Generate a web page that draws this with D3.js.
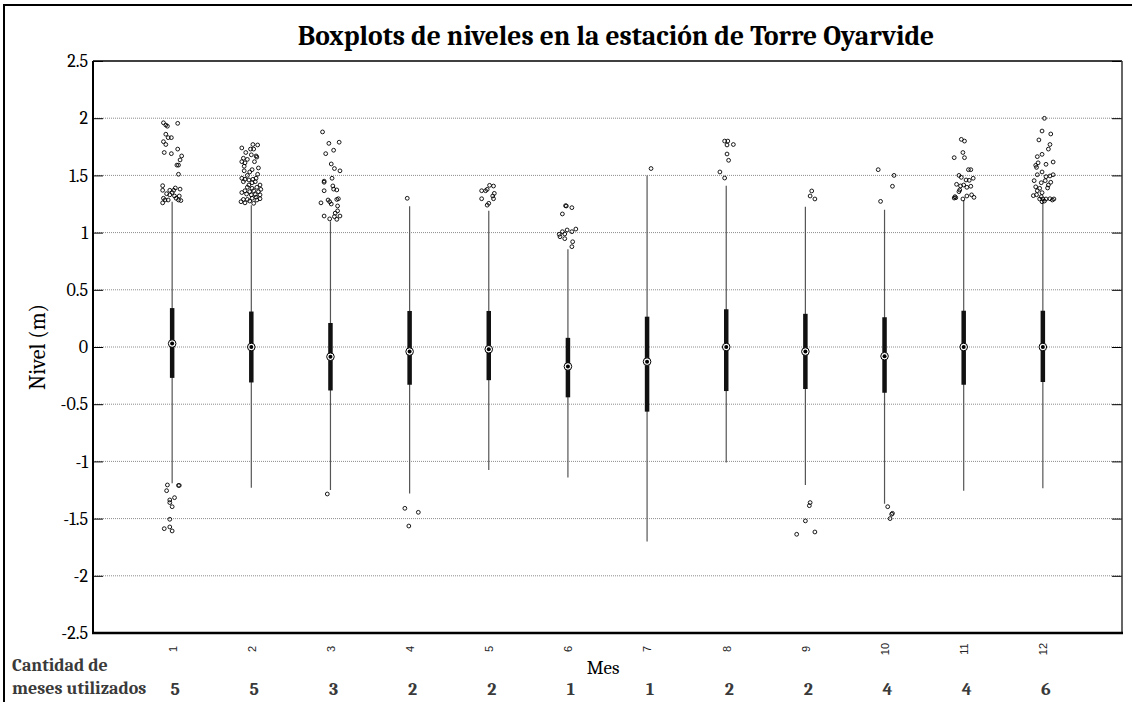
<!DOCTYPE html>
<html>
<head>
<meta charset="utf-8">
<script src="https://cdn.jsdelivr.net/npm/d3@7"></script>
<style>
  body { margin: 0; background: #fff; }
  text { font-family: Cambria, "Liberation Serif", serif; }
  .xlabels text { font-family: "Liberation Sans", Arial, sans-serif; }
</style>
</head>
<body>
<div id="chart"></div>
<script>
// months and the number of months used for each one
const months = [1, 2, 3, 4, 5, 6, 7, 8, 9, 10, 11, 12];
const monthsUsed = [5, 5, 3, 2, 2, 1, 1, 2, 2, 4, 4, 6];

// box statistics (m)
const whiskerLow = [-1.19, -1.23, -1.25, -1.28, -1.075, -1.14, -1.70, -1.01, -1.206, -1.37, -1.256, -1.235];
const q1 = [-0.27, -0.31, -0.38, -0.33, -0.29, -0.44, -0.565, -0.385, -0.367, -0.40, -0.33, -0.306];
const medians = [0.03, 0.0, -0.085, -0.04, -0.02, -0.17, -0.128, 0.0, -0.04, -0.08, 0.0, 0.0];
const q3 = [0.34, 0.31, 0.21, 0.315, 0.315, 0.08, 0.265, 0.33, 0.29, 0.26, 0.317, 0.317];
const whiskerHigh = [1.27, 1.24, 1.10, 1.23, 1.19, 0.854, 1.50, 1.41, 1.226, 1.20, 1.285, 1.27];

// outliers per month: [jitter (months), level (m)]
const outliers = [
  [[-0.11,1.96],[-0.08,1.94],[-0.06,1.93],[0.07,1.955],[-0.08,1.86],[-0.05,1.83],[-0.01,1.83],[-0.11,1.795],[-0.08,1.77],[0.07,1.73],[-0.10,1.70],[-0.01,1.69],[0.12,1.67],[0.10,1.635],[0.08,1.59],[0.06,1.59],[0.08,1.51],
   [-0.12,1.41],[-0.12,1.37],[-0.03,1.37],[0.04,1.39],[0.10,1.38],[-0.07,1.34],[0,1.35],[0.09,1.32],[-0.11,1.30],[-0.09,1.285],[-0.12,1.26],[-0.03,1.33],[0.02,1.37],[0.11,1.28],[0.08,1.285],[-0.05,1.285],[0.05,1.30],[0.03,1.32],
   [-0.06,-1.206],[0.09,-1.21],[0.08,-1.21],[-0.07,-1.256],[0.03,-1.317],[-0.03,-1.337],[-0.03,-1.36],[0,-1.396],[-0.03,-1.506],[-0.10,-1.588],[-0.03,-1.573],[0,-1.608]],
  [[0.02,1.77],[0.08,1.766],[-0.12,1.74],[-0.01,1.73],[0.03,1.73],[-0.07,1.70],[0,1.68],[0.06,1.67],[0.07,1.66],[-0.10,1.65],[-0.05,1.64],[-0.12,1.62],[0.04,1.62],[-0.08,1.61],[-0.09,1.58],[0.09,1.565],[-0.02,1.53],[0.01,1.55],[-0.09,1.54],[0.08,1.51],[-0.05,1.50],
   [-0.12,1.475],[-0.08,1.466],[-0.03,1.46],[0.02,1.466],[0.06,1.475],[-0.10,1.445],[0.01,1.436],[0.05,1.445],[-0.03,1.416],[0.11,1.416],[-0.05,1.396],[0.01,1.387],[0.07,1.396],[0.12,1.378],[-0.08,1.366],[-0.02,1.358],[0.03,1.366],[0.09,1.358],
   [-0.12,1.35],[-0.06,1.337],[0,1.33],[0.05,1.333],[0.11,1.33],[-0.10,1.29],[-0.05,1.29],[0.01,1.30],[0.06,1.31],[0.11,1.296],[-0.13,1.27],[-0.08,1.26],[-0.02,1.276],[0.03,1.256],[0.07,1.285]],
  [[-0.10,1.88],[-0.02,1.78],[0.11,1.79],[0.04,1.72],[-0.06,1.69],[0.01,1.60],[0.05,1.56],[0.12,1.54],[-0.08,1.45],[-0.08,1.44],[0.02,1.475],[0.03,1.408],[0.08,1.373],[0.04,1.38],[-0.08,1.366],
   [-0.01,1.27],[-0.03,1.285],[0.01,1.25],[0.08,1.29],[0.10,1.296],[-0.12,1.26],[0.09,1.233],[-0.08,1.145],[-0.01,1.12],[0.05,1.14],[0.08,1.116],[0.12,1.145],[0.06,1.17],[0.09,1.19],
   [-0.04,-1.285]],
  [[-0.03,1.30],[-0.06,-1.41],[0.11,-1.445],[-0.01,-1.565]],
  [[-0.09,1.366],[-0.04,1.366],[-0.02,1.378],[0.01,1.413],[0.06,1.407],[0.07,1.343],[0.05,1.32],[0.06,1.296],[-0.09,1.296],[0,1.256],[-0.02,1.24]],
  [[-0.03,1.235],[-0.02,1.233],[0.05,1.218],[-0.07,1.163],[-0.11,0.985],[-0.10,0.964],[-0.07,1.008],[-0.04,0.988],[-0.01,1.023],[0.05,1.008],[0.10,1.031],[-0.04,0.947],[0.06,0.92],[0.05,0.877]],
  [[0.05,1.56]],
  [[-0.02,1.80],[0.02,1.80],[0.01,1.766],[0.09,1.77],[0.01,1.687],[0.03,1.632],[-0.08,1.53],[-0.02,1.477]],
  [[0.08,1.364],[0.06,1.32],[0.12,1.294],[0.06,-1.36],[0.05,-1.387],[0,-1.52],[-0.11,-1.637],[0.12,-1.617]],
  [[-0.08,1.55],[0.12,1.50],[0.10,1.405],[-0.05,1.273],[0.04,-1.396],[0.10,-1.454],[0.09,-1.462],[0.07,-1.50]],
  [[-0.03,1.815],[0.01,1.80],[-0.01,1.70],[-0.12,1.655],[0.01,1.655],[0.06,1.55],[0.09,1.55],[-0.06,1.50],[-0.03,1.483],[0.03,1.46],[0.07,1.457],[0.12,1.475],[-0.09,1.422],
   [-0.04,1.408],[0,1.416],[0.04,1.396],[0.09,1.405],[-0.05,1.373],[-0.06,1.358],[-0.11,1.314],[-0.10,1.305],[-0.12,1.302],[-0.01,1.294],[0.04,1.32],[0.10,1.33],[0.13,1.308]],
  [[0.02,1.999],[-0.01,1.888],[0.10,1.862],[-0.05,1.81],[0.09,1.77],[0.07,1.73],[-0.01,1.684],[-0.07,1.664],[-0.06,1.61],[-0.09,1.588],[-0.08,1.57],[0.04,1.597],[0.13,1.617],
   [-0.01,1.53],[-0.07,1.506],[0.04,1.489],[0.09,1.495],[0.13,1.506],[-0.11,1.454],[-0.02,1.436],[0.03,1.454],[0.10,1.44],[0.07,1.416],[-0.09,1.40],[-0.04,1.387],[0.06,1.39],
   [-0.07,1.366],[-0.01,1.349],[-0.12,1.323],[-0.08,1.331],[-0.02,1.314],[-0.04,1.294],[0,1.294],[0.04,1.294],[0.09,1.296],[0.14,1.294],[-0.01,1.27],[0.02,1.276],[0.12,1.285]]
];

// axis ticks
const yTicks = [-2.5, -2, -1.5, -1, -0.5, 0, 0.5, 1, 1.5, 2, 2.5];
const yTickLabels = ["-2.5", "-2", "-1.5", "-1", "-0.5", "0", "0.5", "1", "1.5", "2", "2.5"];
const gridValues = [-2, -1.5, -1, -0.5, 0, 0.5, 1, 1.5, 2];

const width = 1132, height = 702;
const plot = { left: 93, right: 1122, top: 61, bottom: 633 };

const svg = d3.select("#chart").append("svg")
  .attr("width", width)
  .attr("height", height);

svg.append("rect").attr("width", width).attr("height", height).attr("fill", "#fff");

// outer frame (left and top)
svg.append("path")
  .attr("d", `M4,${height} V5 H${width}`)
  .attr("fill", "none")
  .attr("stroke", "#000")
  .attr("stroke-width", 2);

const x = d3.scaleLinear().domain([0, 13]).range([plot.left, plot.right]);
const y = d3.scaleLinear().domain([-2.5, 2.5]).range([plot.bottom, plot.top]);

// grid
svg.append("g").selectAll("line")
  .data(gridValues)
  .enter().append("line")
  .attr("x1", plot.left).attr("x2", plot.right)
  .attr("y1", d => y(d)).attr("y2", d => y(d))
  .attr("stroke", "#8c8c8c")
  .attr("stroke-width", 1)
  .attr("stroke-dasharray", "1,1");

// left axis
const yAxis = svg.append("g")
  .attr("transform", `translate(${plot.left},0)`)
  .call(d3.axisLeft(y).tickValues(yTicks).tickSize(-10).tickPadding(5)
    .tickFormat((d, i) => yTickLabels[i]));
yAxis.select(".domain").remove();
yAxis.selectAll("line").attr("stroke", "#000");
yAxis.selectAll("text")
  .attr("font-size", 18)
  .attr("fill", "#000");

// right axis ticks
const yAxisR = svg.append("g")
  .attr("transform", `translate(${plot.right},0)`)
  .call(d3.axisRight(y).tickValues(yTicks).tickSize(-10).tickFormat(""));
yAxisR.select(".domain").remove();
yAxisR.selectAll("line").attr("stroke", "#000");

// box frame
svg.append("line").attr("x1", plot.left).attr("x2", plot.right).attr("y1", plot.top).attr("y2", plot.top)
  .attr("stroke", "#000").attr("stroke-width", 1.5);
svg.append("line").attr("x1", plot.right).attr("x2", plot.right).attr("y1", plot.top).attr("y2", plot.bottom)
  .attr("stroke", "#333").attr("stroke-width", 1.5);
svg.append("line").attr("x1", plot.left).attr("x2", plot.left).attr("y1", plot.top).attr("y2", plot.bottom + 1)
  .attr("stroke", "#000").attr("stroke-width", 2);
svg.append("line").attr("x1", plot.left - 1).attr("x2", plot.right + 1).attr("y1", plot.bottom).attr("y2", plot.bottom)
  .attr("stroke", "#000").attr("stroke-width", 2.5);

// x tick labels (rotated)
const xAxis = svg.append("g")
  .attr("class", "xlabels")
  .attr("transform", `translate(0,${plot.bottom})`)
  .call(d3.axisBottom(x).tickValues(months).tickSize(0).tickFormat(d3.format("d")));
xAxis.select(".domain").remove();
xAxis.selectAll("text")
  .attr("font-size", 11)
  .attr("fill", "#222")
  .attr("text-anchor", "middle")
  .attr("dy", "0.35em")
  .attr("y", 0)
  .attr("transform", "translate(0,16) rotate(-90)");

// whiskers
const boxes = svg.append("g").selectAll("g")
  .data(months)
  .enter().append("g");

boxes.append("line")
  .attr("x1", d => x(d)).attr("x2", d => x(d))
  .attr("y1", (d, i) => y(whiskerLow[i]))
  .attr("y2", (d, i) => y(whiskerHigh[i]))
  .attr("stroke", "#555")
  .attr("stroke-width", 1.2);

// boxes as thick lines
boxes.append("line")
  .attr("x1", d => x(d)).attr("x2", d => x(d))
  .attr("y1", (d, i) => y(q1[i]))
  .attr("y2", (d, i) => y(q3[i]))
  .attr("stroke", "#111")
  .attr("stroke-width", 4.5);

// median markers
boxes.append("circle")
  .attr("cx", d => x(d))
  .attr("cy", (d, i) => y(medians[i]))
  .attr("r", 3.8)
  .attr("fill", "#fff")
  .attr("stroke", "#000")
  .attr("stroke-width", 1);
boxes.append("circle")
  .attr("cx", d => x(d))
  .attr("cy", (d, i) => y(medians[i]))
  .attr("r", 2)
  .attr("fill", "#000");

// outliers
const outlierPoints = [];
outliers.forEach((list, i) => {
  list.forEach(p => outlierPoints.push({ month: months[i], jitter: p[0], value: p[1] }));
});

svg.append("g").selectAll("circle")
  .data(outlierPoints)
  .enter().append("circle")
  .attr("cx", d => x(d.month + d.jitter))
  .attr("cy", d => y(d.value))
  .attr("r", 1.9)
  .attr("fill", "none")
  .attr("stroke", "#000")
  .attr("stroke-width", 0.9);

// title
svg.append("text")
  .attr("x", 616)
  .attr("y", 45)
  .attr("text-anchor", "middle")
  .attr("font-size", 27.5)
  .attr("font-weight", "bold")
  .text("Boxplots de niveles en la estación de Torre Oyarvide");

// axis labels
svg.append("text")
  .attr("transform", `translate(45,${(plot.top + plot.bottom) / 2}) rotate(-90)`)
  .attr("text-anchor", "middle")
  .attr("font-size", 22)
  .text("Nivel (m)");

svg.append("text")
  .attr("x", 603)
  .attr("y", 674)
  .attr("text-anchor", "middle")
  .attr("font-size", 19)
  .text("Mes");

// months used row
svg.append("text")
  .attr("x", 12).attr("y", 671)
  .attr("font-size", 18)
  .attr("font-weight", "bold")
  .attr("fill", "#3a3a3a")
  .text("Cantidad de");
svg.append("text")
  .attr("x", 12).attr("y", 694)
  .attr("font-size", 18)
  .attr("font-weight", "bold")
  .attr("fill", "#3a3a3a")
  .text("meses utilizados");

svg.append("g").selectAll("text")
  .data(monthsUsed)
  .enter().append("text")
  .attr("x", (d, i) => x(months[i]) + 3)
  .attr("y", 695)
  .attr("text-anchor", "middle")
  .attr("font-size", 18)
  .attr("font-weight", "bold")
  .attr("fill", "#3a3a3a")
  .text(d => d);
</script>
</body>
</html>
